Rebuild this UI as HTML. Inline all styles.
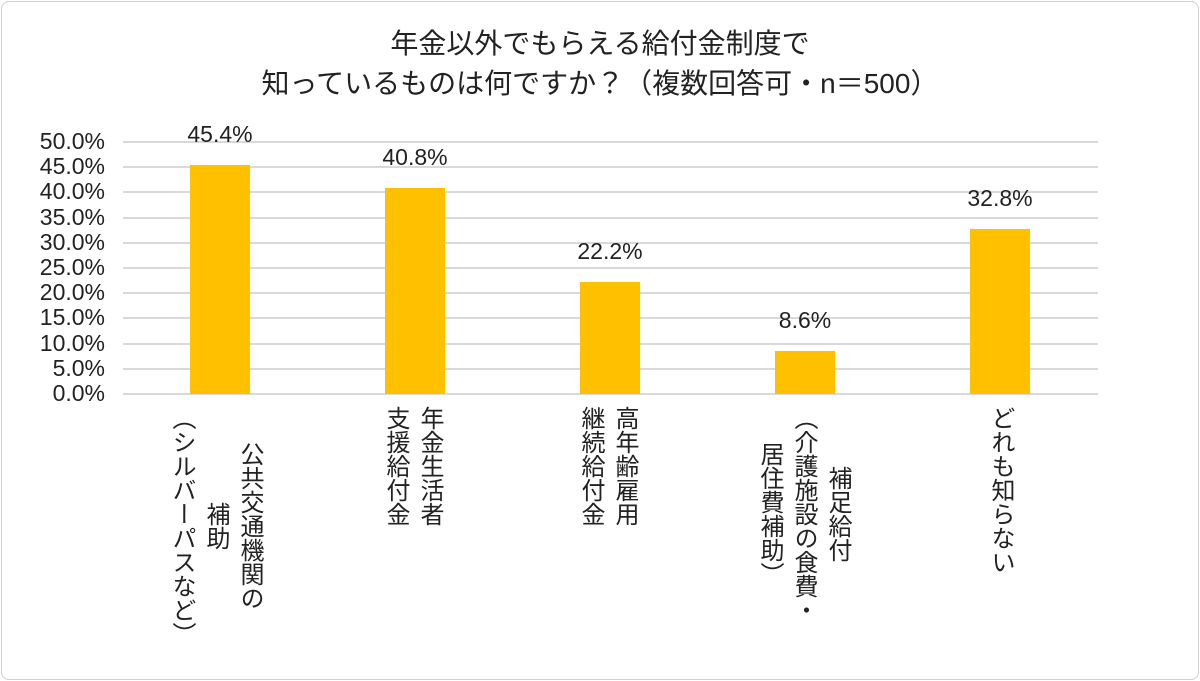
<!DOCTYPE html>
<html><head><meta charset="utf-8"><style>
body{margin:0;width:1200px;height:681px;background:#fff;overflow:hidden;font-family:"Liberation Sans","Noto Sans CJK JP",sans-serif;color:#222}
.frame{position:absolute;left:1px;top:1px;width:1196px;height:677px;border:1px solid #d0d0d0;border-radius:8px}
.t{position:absolute;left:0;width:1200px;text-align:center;font-size:28px;line-height:40px}
.yl{position:absolute;left:0;width:105px;text-align:right;font-size:23px;line-height:22px}
.g{position:absolute;left:123px;width:975px;height:2px;background:#d9d9d9}
.bar{position:absolute;width:60px;background:#ffc000}
.dl{position:absolute;width:120px;text-align:center;font-size:23px}
.xl{position:absolute;top:406px;writing-mode:vertical-rl;text-align:center;font-size:24px;line-height:34px;transform:translateX(-50%);white-space:nowrap}
</style></head><body>
<div class="frame"></div>
<div class="t" style="top:24px">年金以外でもらえる給付金制度で</div>
<div class="t" style="top:64px">知っているものは何ですか？（複数回答可・n＝500）</div>
<div id="axes"></div>
<script>
let h='';
for(let i=0;i<=10;i++){let y=394-i*25.2;h+=`<div class="g" style="top:${y-1}px"></div><div class="yl" style="top:${y-12}px">${(i*5).toFixed(1)}%</div>`;}
const v=[45.4,40.8,22.2,8.6,32.8];
v.forEach((d,i)=>{let cx=220+195*i,top=394-d*5.04;h+=`<div class="bar" style="left:${cx-30}px;top:${top}px;height:${394-top}px"></div><div class="dl" style="left:${cx-60}px;top:${top-44}px">${d.toFixed(1)}%</div>`;});
document.getElementById('axes').innerHTML=h;
</script>
<div class="xl" style="left:215px">公共交通機関の<br>補助<br>（シルバーパスなど）</div>
<div class="xl" style="left:412px">年金生活者<br>支援給付金</div>
<div class="xl" style="left:607px">高年齢雇用<br>継続給付金</div>
<div class="xl" style="left:803px">補足給付<br>（介護施設の食費・<br>居住費補助）</div>
<div class="xl" style="left:1000px">どれも知らない</div>
</body></html>
